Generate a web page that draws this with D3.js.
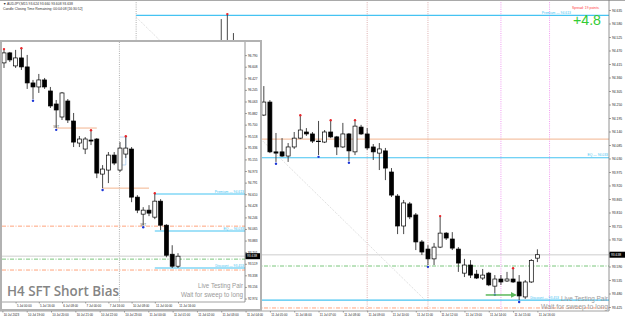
<!DOCTYPE html>
<html>
<head>
<meta charset="utf-8">
<script src="https://cdn.jsdelivr.net/npm/d3@7"></script>
<style>
body{margin:0;background:#fff;}
svg{display:block;}
text{font-family:"Liberation Sans",Arial,sans-serif;}
</style>
</head>
<body>
<svg id="chart"></svg>
<script>
// ---------- M15 chart data (bar 0 = 10 Jul 18:00) ----------
const m15Bars = d3.range(36, 89);
const m15Open  = [94.472,94.505,94.431,94.350,94.289,94.317,94.228,94.207,94.260,94.057,94.057,94.040,94.077,94.113,94.138,94.130,94.101,94.097,94.138,94.118,94.077,94.130,94.057,94.158,94.130,94.077,94.052,94.061,93.975,93.877,93.755,93.845,93.800,93.690,93.661,93.621,93.669,93.726,93.702,93.661,93.563,93.596,93.559,93.543,93.563,93.510,93.539,93.531,93.539,93.527,93.466,93.527,93.624];
const m15High  = [94.598,94.615,94.541,94.370,94.333,94.325,94.248,94.325,94.268,94.134,94.113,94.093,94.138,94.203,94.154,94.138,94.183,94.146,94.183,94.122,94.175,94.134,94.183,94.167,94.154,94.089,94.093,94.073,93.991,93.885,93.861,93.853,93.808,93.698,93.677,93.686,93.792,93.730,93.730,93.669,93.621,93.616,93.576,93.580,93.568,93.555,93.555,93.568,93.580,93.555,93.535,93.620,93.660];
const m15Low   = [94.452,94.423,94.329,94.268,94.276,94.219,94.195,94.203,94.052,94.016,94.036,94.016,94.069,94.109,94.122,94.093,94.044,94.093,94.113,94.044,94.073,94.020,94.044,94.126,94.065,94.024,93.983,93.942,93.873,93.722,93.722,93.783,93.657,93.637,93.596,93.596,93.665,93.698,93.657,93.568,93.547,93.543,93.539,93.535,93.510,93.482,93.515,93.527,93.523,93.453,93.458,93.523,93.608];
const m15Close = [94.505,94.431,94.350,94.289,94.317,94.228,94.211,94.260,94.057,94.052,94.040,94.077,94.113,94.146,94.130,94.101,94.099,94.138,94.118,94.077,94.130,94.061,94.162,94.130,94.073,94.057,94.069,93.991,93.881,93.755,93.849,93.792,93.690,93.649,93.621,93.669,93.726,93.706,93.665,93.604,93.596,93.555,93.543,93.555,93.515,93.539,93.527,93.539,93.527,93.470,93.527,93.615,93.638];
const m15SwingHighs = [37, 49, 54, 58, 72, 84];
const m15SwingLows  = [45, 52, 57, 70, 81, 85];
const m15PriceTicks = [94.635,94.580,94.525,94.470,94.415,94.360,94.305,94.250,94.195,94.140,94.085,94.030,93.975,93.920,93.865,93.810,93.755,93.700,93.645,93.590,93.535,93.480,93.425];
const m15TimeBars  = [0,4,8,12,16,20,24,28,32,36,40,44,48,52,56,60,64,68,72,76,80,84,88];
const m15TimeTicks = ["10 Jul 2023","10 Jul 19:00","10 Jul 20:00","10 Jul 21:00","10 Jul 22:00","10 Jul 23:00","11 Jul 00:00","11 Jul 01:00","11 Jul 02:00","11 Jul 03:00","11 Jul 04:00","11 Jul 05:00","11 Jul 06:00","11 Jul 07:00","11 Jul 08:00","11 Jul 09:00","11 Jul 10:00","11 Jul 11:00","11 Jul 12:00","11 Jul 13:00","11 Jul 14:00","11 Jul 15:00","11 Jul 16:00"];
const m15SessionLines = [60, 70];
const m15KillzoneLines = [82, 90];
const m15RangeStart = 22;
const m15Trend = [[22, 94.606], [69.5, 93.454]];
const m15Arrow = [[79.5, 93.474], [84.4, 93.474]];

// ---------- H4 inset data (bar 0 = 4 Jul 16:00) ----------
const h4Bars = d3.range(0, 31);
const h4Open  = [96.668,96.825,96.621,96.746,96.605,96.354,96.291,96.401,96.228,96.024,95.820,96.071,95.757,95.412,95.318,95.459,95.475,94.925,94.988,95.223,94.988,95.239,95.318,94.564,94.297,94.360,94.250,94.501,94.124,93.669,93.481];
const h4High  = [96.872,96.840,96.872,96.887,96.793,96.401,96.495,96.432,96.291,96.087,96.212,96.102,95.883,95.521,95.506,95.600,95.490,95.066,95.271,95.271,95.427,95.506,95.349,94.595,94.407,94.438,94.613,94.532,94.140,93.810,93.685];
const h4Low   = [96.589,96.683,96.589,96.558,96.260,96.102,96.197,96.260,95.961,95.647,95.773,95.726,95.349,95.349,95.239,95.380,94.862,94.705,94.784,95.066,94.957,95.176,94.485,94.313,94.120,94.266,94.219,94.046,93.622,93.453,93.453];
const h4Close = [96.825,96.715,96.746,96.605,96.354,96.291,96.401,96.291,95.993,95.930,96.197,95.773,95.427,95.475,95.475,95.443,94.941,95.004,95.223,95.098,95.333,95.333,94.564,94.360,94.360,94.313,94.501,94.124,93.653,93.481,93.638];
const h4SwingHighs = [0, 3, 15, 21, 26];
const h4SwingLows  = [5, 9, 17, 24];
const h4SftBars = [9, 24];
const h4Liquidity = [[9, 16, 95.647], [17, 25, 94.705]];
const h4Bracket = [[20, 95.506], [21, 95.506], [21, 95.068], [20.4, 95.068]];
const h4PriceTicks = [96.790,96.608,96.427,96.245,96.063,95.882,95.700,95.518,95.336,95.155,94.973,94.791,94.610,94.428,94.246,94.065,93.883,93.701,93.519,93.338,93.156,92.974];
const h4TimeBars  = [2,6,10,14,18,22,26,30];
const h4TimeTicks = ["5 Jul 00:00","5 Jul 16:00","6 Jul 08:00","7 Jul 00:00","7 Jul 16:00","10 Jul 08:00","11 Jul 00:00","11 Jul 16:00"];
const h4WeekStart = 19.9;
const h4RangeStart = 26;

// shared price levels
const premium = 94.613, equilibrium = 94.033, discount = 93.453;
const sweptLevel = 94.109, targetLevel = 93.592, lowerLevel = 93.421;
const bid = 93.638;

const W = 625, H = 319;
const CYAN = '#45c3f2';

const svg = d3.select('#chart').attr('width', W).attr('height', H);
svg.append('rect').attr('width', W).attr('height', H).attr('fill', '#fff');
const defs = svg.append('defs');
defs.append('clipPath').attr('id', 'clipMain').append('rect').attr('x', 0).attr('y', 1).attr('width', 609).attr('height', 310);
defs.append('clipPath').attr('id', 'clipInset').append('rect').attr('x', 2).attr('y', 42).attr('width', 243).attr('height', 260);
let marker = defs.append('marker').attr('id', 'arrowHead').attr('viewBox', '0 0 10 10')
    .attr('refX', 8).attr('refY', 5).attr('markerWidth', 4).attr('markerHeight', 4).attr('orient', 'auto');
marker.append('path').attr('d', 'M0,0L10,5L0,10z').attr('fill', '#5cb85c');

function hline(g, x1, x2, y, color, dash, width){
    g.append('line').attr('x1', x1).attr('x2', x2).attr('y1', y).attr('y2', y)
        .style('stroke', color).style('stroke-width', width || 1)
        .style('stroke-dasharray', dash || null);
}

function vline(g, x, y1, y2, color, dash){
    g.append('line').attr('x1', x).attr('x2', x).attr('y1', y1).attr('y2', y2)
        .style('stroke', color).style('stroke-width', 0.8).style('stroke-dasharray', dash);
}

function drawCandles(g, idx, o, h, l, c, x, y, bw){
    let rows = idx.map((b, i) => ({b: b, o: o[i], h: h[i], l: l[i], c: c[i]}));
    g.selectAll(null).data(rows).enter().append('line')
        .attr('x1', d => x(d.b)).attr('x2', d => x(d.b))
        .attr('y1', d => y(d.h)).attr('y2', d => y(d.l))
        .style('stroke', '#333').style('stroke-width', 0.9);
    g.selectAll(null).data(rows).enter().append('rect')
        .attr('x', d => x(d.b) - bw / 2)
        .attr('y', d => y(Math.max(d.o, d.c)))
        .attr('width', bw)
        .attr('height', d => Math.max(0.6, Math.abs(y(d.o) - y(d.c))))
        .style('fill', d => d.c > d.o ? '#fff' : '#000')
        .style('stroke', '#000').style('stroke-width', 0.7);
}

function drawSwings(g, idx, highs, lows, h, l, x, y){
    g.selectAll(null).data(highs).enter().append('circle')
        .attr('cx', b => x(b)).attr('cy', b => y(h[idx.indexOf(b)]) - 0.8)
        .attr('r', 1.2).style('fill', '#e8262b');
    g.selectAll(null).data(lows).enter().append('circle')
        .attr('cx', b => x(b)).attr('cy', b => y(l[idx.indexOf(b)]) + 1.8)
        .attr('r', 1.2).style('fill', '#1b35d6');
}

function styleAxis(g, size){
    g.attr('font-size', null).attr('font-family', null);
    g.selectAll('text').style('font-size', size + 'px').attr('fill', '#222');
    g.selectAll('line').style('stroke', '#666').style('stroke-width', 0.6);
    g.select('.domain').remove();
}

function priceTag(g, x, y, w, label){
    g.append('rect').attr('x', x).attr('y', y - 3).attr('width', w).attr('height', 6).attr('fill', '#000');
    g.append('text').attr('x', x + 1.5).attr('y', y + 1.2).text(label)
        .style('font-size', '3.3px').attr('fill', '#fff');
}

// ---------- main M15 chart ----------
let xM = d3.scaleLinear().domain([0, 88]).range([2.4, 537.4]);
let yM = d3.scaleLinear().domain([94.635, 93.425]).range([10, 307]);

hline(svg, 0, W, 0.5, '#a9a9a9', null, 1);
let main = svg.append('g').attr('clip-path', 'url(#clipMain)');

vline(main, xM(m15RangeStart), 0, 311, '#9a9a9a', '1,1.2');
m15SessionLines.forEach(b => vline(main, xM(b), 0, 311, '#d49a9a', '1,1.2'));
m15KillzoneLines.forEach(b => vline(main, xM(b), 0, 311, '#ee82ee', '1,1.2'));

main.append('line')
    .attr('x1', xM(m15Trend[0][0])).attr('y1', yM(m15Trend[0][1]))
    .attr('x2', xM(m15Trend[1][0])).attr('y2', yM(m15Trend[1][1]))
    .style('stroke', '#c9c9c9').style('stroke-width', 0.8).style('stroke-dasharray', '1,1.3');

hline(main, 0, 609, yM(bid), '#dedede', null, 1.6);
hline(main, 0, 609, yM(sweptLevel), '#f2b48f', null, 1);
hline(main, 0, 609, yM(targetLevel), '#59b85c', '4,1.5,1,1.5', 0.8);
hline(main, 0, 609, yM(lowerLevel), '#ff8c5a', '4,1.5,1,1.5', 0.8);
[premium, equilibrium, discount].forEach(p => hline(main, xM(m15RangeStart), 609, yM(p), CYAN, null, 1.2));

// level captions; the top and bottom ones sit left of the large overlay texts
let lvlNames = ['Premium', 'EQ', 'Discount'];
let lvlEndX = [571, 608, 559];
[premium, equilibrium, discount].forEach((p, i) => {
    main.append('text').attr('x', lvlEndX[i]).attr('y', yM(p) - 1.3).attr('text-anchor', 'end')
        .text(lvlNames[i] + ' \u2014 ' + p.toFixed(3)).style('font-size', '3.4px').attr('fill', CYAN);
});

drawCandles(main, m15Bars, m15Open, m15High, m15Low, m15Close, xM, yM, 4);
drawSwings(main, m15Bars, m15SwingHighs, m15SwingLows, m15High, m15Low, xM, yM);

main.append('line')
    .attr('x1', xM(m15Arrow[0][0])).attr('y1', yM(m15Arrow[0][1]))
    .attr('x2', xM(m15Arrow[1][0])).attr('y2', yM(m15Arrow[1][1]))
    .style('stroke', '#5cb85c').style('stroke-width', 1.5).attr('marker-end', 'url(#arrowHead)');

// main axes
vline(svg, 609, 0, 311, '#777', null);
let yAxisM = d3.axisRight(yM).tickValues(m15PriceTicks).tickFormat(d3.format('.3f')).tickSize(2).tickPadding(1);
svg.append('g').attr('transform', 'translate(609,0)').call(yAxisM).call(g => styleAxis(g, 3.3));
priceTag(svg, 609.5, yM(bid), 15.5, bid.toFixed(3));

hline(svg, 0, 609, 311, '#8a8a8a', null, 0.8);
let xAxisM = d3.axisBottom(xM).tickValues(m15TimeBars).tickFormat((d, i) => m15TimeTicks[i]).tickSize(1.5).tickPadding(1);
svg.append('g').attr('transform', 'translate(0,311)').call(xAxisM)
    .call(g => styleAxis(g, 3))
    .call(g => g.selectAll('text').attr('text-anchor', 'start').attr('x', 0.8));

// header and info texts
svg.append('text').attr('x', 3).attr('y', 5.2).text('\u25BC AUDJPY,M15  93.624 93.660 93.608 93.638')
    .style('font-size', '3.4px').attr('fill', '#333');
svg.append('text').attr('x', 3).attr('y', 10.2).text('Candle Closing Time Remaining: 00:04:08 [16:30:52]')
    .style('font-size', '3.4px').attr('fill', '#333');
svg.append('text').attr('x', 572).attr('y', 8.5).text('Spread: 19 points.')
    .style('font-size', '3.4px').attr('fill', '#ff3b3b');
svg.append('text').attr('x', 573).attr('y', 24.5).text('+4.8')
    .attr('textLength', 28).attr('lengthAdjust', 'spacingAndGlyphs')
    .style('font-size', '15px').attr('fill', '#33cc33');
svg.append('text').attr('x', 608).attr('y', 300.5).attr('text-anchor', 'end').text('Live Testing Pair')
    .attr('textLength', 47).attr('lengthAdjust', 'spacingAndGlyphs')
    .style('font-size', '7px').attr('fill', '#9a9a9a');
svg.append('text').attr('x', 608).attr('y', 309).attr('text-anchor', 'end').text('Wait for sweep to long')
    .attr('textLength', 67).attr('lengthAdjust', 'spacingAndGlyphs')
    .style('font-size', '7px').attr('fill', '#9a9a9a');

// ---------- H4 inset window ----------
let xI = d3.scaleLinear().domain([0, 30]).range([4, 178]);
let yI = d3.scaleLinear().domain([discount, premium]).range([268, 194]);

let inset = svg.append('g');
inset.append('rect').attr('x', 1).attr('y', 41).attr('width', 260).attr('height', 269)
    .attr('fill', '#fff').style('stroke', '#b2b2b2').style('stroke-width', 2);

let plot = inset.append('g').attr('clip-path', 'url(#clipInset)');
vline(plot, xI(h4WeekStart), 42, 302, '#9a9a9a', '1,1.2');
hline(plot, 2, 245, yI(bid), '#dedede', null, 1.6);
hline(plot, 2, 245, yI(sweptLevel), '#ff8c5a', '4,1.5,1,1.5', 0.8);
hline(plot, 2, 245, yI(lowerLevel), '#ff8c5a', '4,1.5,1,1.5', 0.8);
hline(plot, 2, 245, yI(targetLevel), '#59b85c', '4,1.5,1,1.5', 0.8);
h4Liquidity.forEach(s => hline(plot, xI(s[0]), xI(s[1]), yI(s[2]), '#f2b48f', null, 1));
[premium, equilibrium, discount].forEach(p => hline(plot, xI(h4RangeStart), 245, yI(p), CYAN, null, 1.2));
[premium, equilibrium, discount].forEach((p, i) => {
    plot.append('text').attr('x', 244).attr('y', yI(p) - 1.3).attr('text-anchor', 'end')
        .text(lvlNames[i] + ' \u2014 ' + p.toFixed(3)).style('font-size', '3.4px').attr('fill', CYAN);
});
plot.append('path')
    .attr('d', d3.line().x(d => xI(d[0])).y(d => yI(d[1]))(h4Bracket))
    .style('fill', 'none').style('stroke', '#9fc6ee').style('stroke-width', 0.7);

drawCandles(plot, h4Bars, h4Open, h4High, h4Low, h4Close, xI, yI, 4);
drawSwings(plot, h4Bars, h4SwingHighs, h4SwingLows, h4High, h4Low, xI, yI);
h4SftBars.forEach(b => {
    plot.append('text').attr('x', xI(b)).attr('y', yI(h4Low[b]) + 0.2).attr('text-anchor', 'middle')
        .text('SFT').style('font-size', '3px').attr('fill', '#555');
});

plot.append('text').attr('x', 7).attr('y', 296).text('H4 SFT Short Bias')
    .attr('textLength', 112).attr('lengthAdjust', 'spacingAndGlyphs')
    .style('font-family', '"Open Sans", sans-serif').style('font-weight', 600)
    .style('font-size', '15px').attr('fill', '#858585');
plot.append('text').attr('x', 243).attr('y', 287.5).attr('text-anchor', 'end').text('Live Testing Pair')
    .attr('textLength', 45).attr('lengthAdjust', 'spacingAndGlyphs')
    .style('font-size', '6.8px').attr('fill', '#9a9a9a');
plot.append('text').attr('x', 243).attr('y', 296.5).attr('text-anchor', 'end').text('Wait for sweep to long')
    .attr('textLength', 62).attr('lengthAdjust', 'spacingAndGlyphs')
    .style('font-size', '6.8px').attr('fill', '#9a9a9a');

// inset axes
vline(inset, 245, 42, 302, '#777', null);
hline(inset, 2, 245, 302, '#8a8a8a', null, 0.8);
let yAxisI = d3.axisRight(yI).tickValues(h4PriceTicks).tickFormat(d3.format('.3f')).tickSize(2).tickPadding(1);
inset.append('g').attr('transform', 'translate(245,0)').call(yAxisI).call(g => styleAxis(g, 3.1));
priceTag(inset, 245.5, yI(bid), 14.5, bid.toFixed(3));
let xAxisI = d3.axisBottom(xI).tickValues(h4TimeBars).tickFormat((d, i) => h4TimeTicks[i]).tickSize(1.5).tickPadding(1);
inset.append('g').attr('transform', 'translate(0,302)').call(xAxisI)
    .call(g => styleAxis(g, 3))
    .call(g => g.selectAll('text').attr('text-anchor', 'start').attr('x', 0.8));
</script>
</body>
</html>
